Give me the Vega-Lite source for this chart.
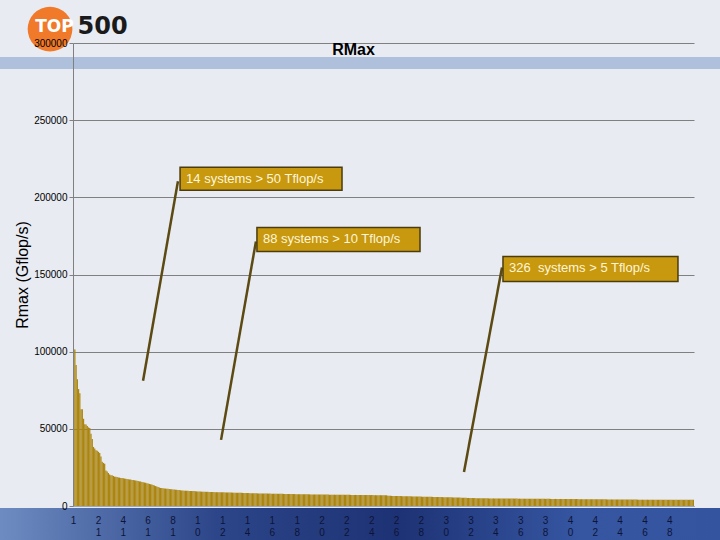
{
"$schema": "https://vega.github.io/schema/vega-lite/v6.json",
"width": 621,
"height": 463,
"autosize": {"type": "none"},
"padding": {"left": 73, "top": 43, "right": 26, "bottom": 34},
"background": "#e8ebf2",
"config": {
  "view": {"stroke": null},
  "font": "Liberation Sans"
},
"title": {"text": "RMax", "font": "Liberation Sans", "fontSize": 16, "fontWeight": "bold", "color": "#000000", "anchor": "middle", "frame": "group", "dx": -30, "dy": 30, "offset": -34, "baseline": "alphabetic"},
"datasets": {
"top": [
{"r":1,"v":101700},{"r":2,"v":101400},{"r":3,"v":91290},{"r":4,"v":82160},{"r":5,"v":75760},{"r":6,"v":73030},{"r":7,"v":62680},{"r":8,"v":62630},{"r":9,"v":56520},{"r":10,"v":53000},
{"r":11,"v":52840},{"r":12,"v":51870},{"r":13,"v":50930},{"r":14,"v":50510},{"r":15,"v":46780},{"r":16,"v":43480},{"r":17,"v":38270},{"r":18,"v":37330},{"r":19,"v":36190},{"r":20,"v":35860},
{"r":21,"v":35100},{"r":22,"v":34400},{"r":23,"v":32100},{"r":24,"v":28600},{"r":25,"v":27910},{"r":26,"v":27450},{"r":27,"v":23060},{"r":28,"v":22340},{"r":29,"v":21390},{"r":30,"v":20480},
{"r":31,"v":19940},{"r":32,"v":19910},{"r":33,"v":19410},{"r":34,"v":19000},{"r":35,"v":18900},{"r":36,"v":18830},{"r":37,"v":18500},{"r":38,"v":18400},{"r":39,"v":18190},{"r":40,"v":18080},
{"r":41,"v":17900},{"r":42,"v":17760},{"r":43,"v":17600},{"r":44,"v":17500},{"r":45,"v":17310},{"r":46,"v":17200},{"r":47,"v":17090},{"r":48,"v":16900},{"r":49,"v":16800},{"r":50,"v":16660},
{"r":51,"v":16500},{"r":52,"v":16400},{"r":53,"v":16200},{"r":54,"v":15950},{"r":55,"v":15800},{"r":56,"v":15600},{"r":57,"v":15400},{"r":58,"v":15200},{"r":59,"v":15000},{"r":60,"v":14800},
{"r":61,"v":14600},{"r":62,"v":14300},{"r":63,"v":14100},{"r":64,"v":13900},{"r":65,"v":13600},{"r":66,"v":13300},{"r":67,"v":12900},{"r":68,"v":12600},{"r":69,"v":12300},{"r":70,"v":12000},
{"r":71,"v":11700},{"r":72,"v":11600},{"r":73,"v":11500},{"r":74,"v":11400},{"r":75,"v":11300},{"r":76,"v":11200},{"r":77,"v":11100},{"r":78,"v":11000},{"r":79,"v":10900},{"r":80,"v":10800},
{"r":81,"v":10700},{"r":82,"v":10650},{"r":83,"v":10560},{"r":84,"v":10500},{"r":85,"v":10430},{"r":86,"v":10340},{"r":87,"v":10210},{"r":88,"v":10110},{"r":89,"v":9990},{"r":90,"v":9950},
{"r":91,"v":9950},{"r":92,"v":9870},{"r":93,"v":9820},{"r":94,"v":9780},{"r":95,"v":9780},{"r":96,"v":9700},{"r":97,"v":9640},{"r":98,"v":9640},{"r":99,"v":9550},{"r":100,"v":9480},
{"r":101,"v":9440},{"r":102,"v":9440},{"r":103,"v":9380},{"r":104,"v":9320},{"r":105,"v":9300},{"r":106,"v":9300},{"r":107,"v":9230},{"r":108,"v":9180},{"r":109,"v":9180},{"r":110,"v":9140},
{"r":111,"v":9100},{"r":112,"v":9060},{"r":113,"v":9060},{"r":114,"v":9020},{"r":115,"v":8990},{"r":116,"v":8960},{"r":117,"v":8960},{"r":118,"v":8930},{"r":119,"v":8900},{"r":120,"v":8890},
{"r":121,"v":8860},{"r":122,"v":8860},{"r":123,"v":8820},{"r":124,"v":8790},{"r":125,"v":8760},{"r":126,"v":8760},{"r":127,"v":8720},{"r":128,"v":8700},{"r":129,"v":8680},{"r":130,"v":8650},
{"r":131,"v":8650},{"r":132,"v":8610},{"r":133,"v":8580},{"r":134,"v":8560},{"r":135,"v":8530},{"r":136,"v":8530},{"r":137,"v":8500},{"r":138,"v":8470},{"r":139,"v":8440},{"r":140,"v":8440},
{"r":141,"v":8400},{"r":142,"v":8370},{"r":143,"v":8340},{"r":144,"v":8300},{"r":145,"v":8270},{"r":146,"v":8240},{"r":147,"v":8240},{"r":148,"v":8200},{"r":149,"v":8180},{"r":150,"v":8160},
{"r":151,"v":8140},{"r":152,"v":8140},{"r":153,"v":8110},{"r":154,"v":8090},{"r":155,"v":8070},{"r":156,"v":8060},{"r":157,"v":8040},{"r":158,"v":8040},{"r":159,"v":8020},{"r":160,"v":8000},
{"r":161,"v":7990},{"r":162,"v":7970},{"r":163,"v":7950},{"r":164,"v":7950},{"r":165,"v":7930},{"r":166,"v":7900},{"r":167,"v":7880},{"r":168,"v":7860},{"r":169,"v":7860},{"r":170,"v":7840},
{"r":171,"v":7820},{"r":172,"v":7800},{"r":173,"v":7790},{"r":174,"v":7770},{"r":175,"v":7770},{"r":176,"v":7750},{"r":177,"v":7730},{"r":178,"v":7710},{"r":179,"v":7700},{"r":180,"v":7680},
{"r":181,"v":7660},{"r":182,"v":7650},{"r":183,"v":7640},{"r":184,"v":7620},{"r":185,"v":7620},{"r":186,"v":7600},{"r":187,"v":7590},{"r":188,"v":7580},{"r":189,"v":7560},{"r":190,"v":7550},
{"r":191,"v":7550},{"r":192,"v":7530},{"r":193,"v":7520},{"r":194,"v":7510},{"r":195,"v":7500},{"r":196,"v":7490},{"r":197,"v":7470},{"r":198,"v":7460},{"r":199,"v":7460},{"r":200,"v":7440},
{"r":201,"v":7430},{"r":202,"v":7420},{"r":203,"v":7410},{"r":204,"v":7400},{"r":205,"v":7390},{"r":206,"v":7380},{"r":207,"v":7370},{"r":208,"v":7360},{"r":209,"v":7350},{"r":210,"v":7350},
{"r":211,"v":7330},{"r":212,"v":7320},{"r":213,"v":7310},{"r":214,"v":7300},{"r":215,"v":7290},{"r":216,"v":7280},{"r":217,"v":7270},{"r":218,"v":7260},{"r":219,"v":7250},{"r":220,"v":7240},
{"r":221,"v":7240},{"r":222,"v":7230},{"r":223,"v":7220},{"r":224,"v":7210},{"r":225,"v":7200},{"r":226,"v":7190},{"r":227,"v":7180},{"r":228,"v":7170},{"r":229,"v":7160},{"r":230,"v":7150},
{"r":231,"v":7150},{"r":232,"v":7140},{"r":233,"v":7130},{"r":234,"v":7120},{"r":235,"v":7110},{"r":236,"v":7100},{"r":237,"v":7090},{"r":238,"v":7080},{"r":239,"v":7080},{"r":240,"v":7070},
{"r":241,"v":7060},{"r":242,"v":7050},{"r":243,"v":7040},{"r":244,"v":7030},{"r":245,"v":7030},{"r":246,"v":7020},{"r":247,"v":7010},{"r":248,"v":7000},{"r":249,"v":6990},{"r":250,"v":6980},
{"r":251,"v":6970},{"r":252,"v":6960},{"r":253,"v":6950},{"r":254,"v":6610},{"r":255,"v":6600},{"r":256,"v":6580},{"r":257,"v":6560},{"r":258,"v":6540},{"r":259,"v":6520},{"r":260,"v":6500},
{"r":261,"v":6480},{"r":262,"v":6470},{"r":263,"v":6450},{"r":264,"v":6430},{"r":265,"v":6410},{"r":266,"v":6390},{"r":267,"v":6370},{"r":268,"v":6350},{"r":269,"v":6330},{"r":270,"v":6310},
{"r":271,"v":6290},{"r":272,"v":6270},{"r":273,"v":6250},{"r":274,"v":6230},{"r":275,"v":6210},{"r":276,"v":6190},{"r":277,"v":6170},{"r":278,"v":6150},{"r":279,"v":6130},{"r":280,"v":6110},
{"r":281,"v":6090},{"r":282,"v":6070},{"r":283,"v":6050},{"r":284,"v":6030},{"r":285,"v":6010},{"r":286,"v":5990},{"r":287,"v":5970},{"r":288,"v":5950},{"r":289,"v":5930},{"r":290,"v":5910},
{"r":291,"v":5890},{"r":292,"v":5870},{"r":293,"v":5850},{"r":294,"v":5830},{"r":295,"v":5810},{"r":296,"v":5790},{"r":297,"v":5770},{"r":298,"v":5750},{"r":299,"v":5730},{"r":300,"v":5710},
{"r":301,"v":5690},{"r":302,"v":5670},{"r":303,"v":5650},{"r":304,"v":5630},{"r":305,"v":5610},{"r":306,"v":5590},{"r":307,"v":5570},{"r":308,"v":5550},{"r":309,"v":5520},{"r":310,"v":5490},
{"r":311,"v":5460},{"r":312,"v":5430},{"r":313,"v":5400},{"r":314,"v":5370},{"r":315,"v":5340},{"r":316,"v":5310},{"r":317,"v":5280},{"r":318,"v":5250},{"r":319,"v":5220},{"r":320,"v":5200},
{"r":321,"v":5180},{"r":322,"v":5160},{"r":323,"v":5130},{"r":324,"v":5110},{"r":325,"v":5080},{"r":326,"v":5050},{"r":327,"v":4990},{"r":328,"v":4990},{"r":329,"v":4980},{"r":330,"v":4970},
{"r":331,"v":4970},{"r":332,"v":4960},{"r":333,"v":4950},{"r":334,"v":4950},{"r":335,"v":4940},{"r":336,"v":4930},{"r":337,"v":4920},{"r":338,"v":4920},{"r":339,"v":4920},{"r":340,"v":4910},
{"r":341,"v":4900},{"r":342,"v":4890},{"r":343,"v":4880},{"r":344,"v":4880},{"r":345,"v":4870},{"r":346,"v":4860},{"r":347,"v":4850},{"r":348,"v":4850},{"r":349,"v":4840},{"r":350,"v":4830},
{"r":351,"v":4830},{"r":352,"v":4820},{"r":353,"v":4810},{"r":354,"v":4800},{"r":355,"v":4800},{"r":356,"v":4800},{"r":357,"v":4790},{"r":358,"v":4780},{"r":359,"v":4770},{"r":360,"v":4770},
{"r":361,"v":4760},{"r":362,"v":4750},{"r":363,"v":4750},{"r":364,"v":4740},{"r":365,"v":4730},{"r":366,"v":4720},{"r":367,"v":4720},{"r":368,"v":4710},{"r":369,"v":4700},{"r":370,"v":4700},
{"r":371,"v":4690},{"r":372,"v":4690},{"r":373,"v":4680},{"r":374,"v":4670},{"r":375,"v":4670},{"r":376,"v":4660},{"r":377,"v":4650},{"r":378,"v":4650},{"r":379,"v":4640},{"r":380,"v":4640},
{"r":381,"v":4630},{"r":382,"v":4630},{"r":383,"v":4620},{"r":384,"v":4620},{"r":385,"v":4610},{"r":386,"v":4610},{"r":387,"v":4600},{"r":388,"v":4600},{"r":389,"v":4600},{"r":390,"v":4590},
{"r":391,"v":4590},{"r":392,"v":4580},{"r":393,"v":4560},{"r":394,"v":4550},{"r":395,"v":4540},{"r":396,"v":4540},{"r":397,"v":4530},{"r":398,"v":4520},{"r":399,"v":4520},{"r":400,"v":4510},
{"r":401,"v":4500},{"r":402,"v":4500},{"r":403,"v":4490},{"r":404,"v":4480},{"r":405,"v":4480},{"r":406,"v":4470},{"r":407,"v":4460},{"r":408,"v":4450},{"r":409,"v":4450},{"r":410,"v":4440},
{"r":411,"v":4430},{"r":412,"v":4430},{"r":413,"v":4420},{"r":414,"v":4410},{"r":415,"v":4400},{"r":416,"v":4400},{"r":417,"v":4390},{"r":418,"v":4380},{"r":419,"v":4380},{"r":420,"v":4370},
{"r":421,"v":4360},{"r":422,"v":4350},{"r":423,"v":4350},{"r":424,"v":4340},{"r":425,"v":4330},{"r":426,"v":4330},{"r":427,"v":4320},{"r":428,"v":4310},{"r":429,"v":4300},{"r":430,"v":4300},
{"r":431,"v":4290},{"r":432,"v":4280},{"r":433,"v":4280},{"r":434,"v":4270},{"r":435,"v":4260},{"r":436,"v":4260},{"r":437,"v":4250},{"r":438,"v":4240},{"r":439,"v":4240},{"r":440,"v":4230},
{"r":441,"v":4220},{"r":442,"v":4220},{"r":443,"v":4210},{"r":444,"v":4200},{"r":445,"v":4200},{"r":446,"v":4190},{"r":447,"v":4190},{"r":448,"v":4180},{"r":449,"v":4170},{"r":450,"v":4170},
{"r":451,"v":4160},{"r":452,"v":4160},{"r":453,"v":4150},{"r":454,"v":4140},{"r":455,"v":4140},{"r":456,"v":4130},{"r":457,"v":4130},{"r":458,"v":4120},{"r":459,"v":4120},{"r":460,"v":4110},
{"r":461,"v":4110},{"r":462,"v":4100},{"r":463,"v":4100},{"r":464,"v":4090},{"r":465,"v":4090},{"r":466,"v":4080},{"r":467,"v":4080},{"r":468,"v":4070},{"r":469,"v":4070},{"r":470,"v":4060},
{"r":471,"v":4060},{"r":472,"v":4060},{"r":473,"v":4050},{"r":474,"v":4050},{"r":475,"v":4050},{"r":476,"v":4040},{"r":477,"v":4040},{"r":478,"v":4040},{"r":479,"v":4030},{"r":480,"v":4030},
{"r":481,"v":4030},{"r":482,"v":4030},{"r":483,"v":4020},{"r":484,"v":4020},{"r":485,"v":4020},{"r":486,"v":4020},{"r":487,"v":4010},{"r":488,"v":4010},{"r":489,"v":4010},{"r":490,"v":4010},
{"r":491,"v":4010},{"r":492,"v":4010},{"r":493,"v":4010},{"r":494,"v":4005},{"r":495,"v":4005},{"r":496,"v":4005},{"r":497,"v":4005},{"r":498,"v":4005},{"r":499,"v":4005},{"r":500,"v":4005}
],
"ann": [
{"label": "14 systems > 50 Tflop/s", "lx1": 56.9, "ly1": 81170, "lx2": 85.0, "ly2": 210390, "bx1": 86.7, "bx2": 217.1, "by1": 219480, "by2": 204545},
{"label": "88 systems > 10 Tflop/s", "lx1": 119.7, "ly1": 42860, "lx2": 147.8, "ly2": 171430, "bx1": 148.6, "bx2": 279.9, "by1": 180520, "by2": 164940},
{"label": "326\u00a0 systems > 5 Tflop/s", "lx1": 315.3, "ly1": 22080, "lx2": 345.9, "ly2": 154550, "bx1": 346.7, "bx2": 487.6, "by1": 161690, "by2": 145450}
]
},
"layer": [
{
  "data": {"values": [{}]},
  "mark": {"type": "rect", "fill": "#afc0dd"},
  "encoding": {
    "x": {"datum": -60, "type": "quantitative", "scale": {"domain": [0.5, 500.5], "nice": false, "zero": false}, "axis": null},
    "x2": {"datum": 525},
    "y": {"datum": 290900, "type": "quantitative", "scale": {"domain": [0, 300000], "nice": false}, "axis": null},
    "y2": {"datum": 283100}
  }
},
{
  "data": {"values": [{}]},
  "mark": {"type": "rect", "fill": {"gradient": "linear", "x1": 0, "x2": 1, "y1": 0, "y2": 0, "stops": [{"offset": 0, "color": "#6f8cc2"}, {"offset": 0.3, "color": "#2c4689"}, {"offset": 0.55, "color": "#1d3274"}, {"offset": 0.8, "color": "#3656a2"}, {"offset": 1, "color": "#3454a0"}]}},
  "encoding": {
    "x": {"datum": -60, "type": "quantitative", "scale": {"domain": [0.5, 500.5], "nice": false, "zero": false}, "axis": null},
    "x2": {"datum": 525},
    "y": {"datum": -1300, "type": "quantitative", "axis": null},
    "y2": {"datum": -26000}
  }
},
{
  "data": {"values": [{}]},
  "mark": {"type": "point", "shape": "circle", "filled": true, "fill": "#f07a2a", "opacity": 1, "size": 2000},
  "encoding": {
    "x": {"datum": -18, "type": "quantitative", "scale": {"domain": [0.5, 500.5], "nice": false, "zero": false}, "axis": null},
    "y": {"datum": 309000, "type": "quantitative", "axis": null}
  }
},
{
  "data": {"values": [{}]},
  "mark": {"type": "text", "text": "TOP", "font": "DejaVu Sans", "fontSize": 17, "fontWeight": "bold", "fill": "#ffffff", "align": "center", "baseline": "middle"},
  "encoding": {
    "x": {"datum": -14.4, "type": "quantitative", "scale": {"domain": [0.5, 500.5], "nice": false, "zero": false}, "axis": null},
    "y": {"datum": 310400, "type": "quantitative", "axis": null}
  }
},
{
  "data": {"values": [{}]},
  "mark": {"type": "text", "text": "500", "font": "DejaVu Sans", "fontSize": 24, "fontWeight": "bold", "fill": "#1a1a1a", "align": "center", "baseline": "middle"},
  "encoding": {
    "x": {"datum": 24.3, "type": "quantitative", "scale": {"domain": [0.5, 500.5], "nice": false, "zero": false}, "axis": null},
    "y": {"datum": 310400, "type": "quantitative", "axis": null}
  }
},
{
  "data": {"name": "top"},
  "mark": {"type": "bar", "fill": "#ab850f"},
  "encoding": {
    "x": {"field": "r", "type": "ordinal", "scale": {"paddingInner": 0, "paddingOuter": 0},
      "axis": {"values": [1,21,41,61,81,101,121,141,161,181,201,221,241,261,281,301,321,341,361,381,401,421,441,461,481], "labelExpr": "split(substring(datum.label, 0, 2), '')", "labelAngle": 0, "labelFont": "Liberation Sans", "labelFontSize": 10, "labelColor": "#0e1438", "labelLineHeight": 12, "labelOverlap": false, "ticks": false, "domainColor": "#9aa8c8", "title": null, "labelPadding": 9, "labelBaseline": "top", "zindex": 1}},
    "y": {"field": "v", "type": "quantitative",
      "axis": {"orient": "left", "values": [0, 50000, 100000, 150000, 200000, 250000, 300000], "grid": true, "labels": false, "ticks": false, "domain": false, "title": null, "gridColor": "#808080", "gridOpacity": 1, "gridWidth": 1, "zindex": 0}}
  }
},
{
  "data": {"name": "ann"},
  "mark": {"type": "rule", "stroke": "#5c4a12", "strokeWidth": 2.5},
  "encoding": {
    "x": {"field": "lx1", "type": "quantitative", "scale": {"domain": [0.5, 500.5], "nice": false, "zero": false}, "axis": null},
    "x2": {"field": "lx2"},
    "y": {"field": "ly1", "type": "quantitative", "axis": null},
    "y2": {"field": "ly2"}
  }
},
{
  "data": {"name": "ann"},
  "mark": {"type": "rect", "fill": "#c8980e", "stroke": "#4a3c10", "strokeWidth": 1.5},
  "encoding": {
    "x": {"field": "bx1", "type": "quantitative", "scale": {"domain": [0.5, 500.5], "nice": false, "zero": false}, "axis": null},
    "x2": {"field": "bx2"},
    "y": {"field": "by1", "type": "quantitative", "axis": null},
    "y2": {"field": "by2"}
  }
},
{
  "data": {"name": "ann"},
  "mark": {"type": "text", "align": "left", "baseline": "middle", "dx": 6, "dy": 12, "font": "Liberation Sans", "fontSize": 13, "fill": "#fdf6da"},
  "encoding": {
    "x": {"field": "bx1", "type": "quantitative", "scale": {"domain": [0.5, 500.5], "nice": false, "zero": false}, "axis": null},
    "y": {"field": "by1", "type": "quantitative",
      "axis": {"orient": "left", "values": [0, 50000, 100000, 150000, 200000, 250000, 300000], "format": "d", "grid": false, "labelFont": "Liberation Sans", "labelFontSize": 10, "labelColor": "#000000", "tickSize": 4, "tickColor": "#808080", "domainColor": "#808080", "title": "Rmax (Gflop/s)", "titleFont": "Liberation Sans", "titleFontSize": 16, "titleFontWeight": "normal", "titleColor": "#000000", "titlePadding": 3, "labelPadding": 2, "zindex": 1}},
    "text": {"field": "label"}
  }
}
],
"resolve": {"scale": {"x": "independent"}, "axis": {"y": "independent"}}
}
